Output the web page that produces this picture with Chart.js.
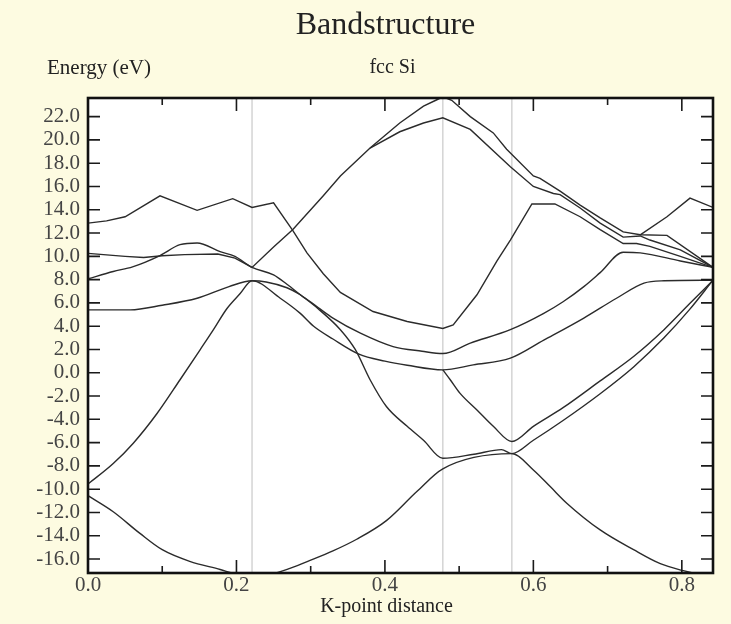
<!DOCTYPE html>
<html>
<head>
<meta charset="utf-8">
<title>Bandstructure</title>
<script src="https://cdn.jsdelivr.net/npm/chart.js@4.4.1/dist/chart.umd.min.js"></script>
<style>
  body { margin: 0; background: #fdfbe1; }
  canvas { display: block; }
</style>
</head>
<body>
<canvas id="bands" width="731" height="624"></canvas>
<script>
// path L - G - X - U,K - G, k in units
const symPoints = [0.221, 0.478, 0.571];
const xTicks = [0, 0.2, 0.4, 0.6, 0.8];
const xMinorTicks = [0.1, 0.3, 0.5, 0.7];
const yTicks = [-16, -14, -12, -10, -8, -6, -4, -2, 0, 2, 4, 6, 8, 10, 12, 14, 16, 18, 20, 22];

// bands as [k, E(eV)] pairs
const band1 = [[0,-10.56],[0.034,-11.94],[0.07,-13.8],[0.1,-15.2],[0.137,-16.2],[0.178,-16.9],[0.2,-17.3],[0.221,-17.5],
  [0.25,-17.25],[0.272,-16.8],[0.3,-16.1],[0.33,-15.3],[0.362,-14.3],[0.402,-12.7],[0.443,-10.2],[0.478,-8.25],
  [0.571,-6.95],[0.6,-8.35],[0.623,-9.8],[0.645,-11.2],[0.69,-13.5],[0.735,-15.2],[0.771,-16.4],[0.802,-17.0],[0.842,-17.6]];
const band2 = [[0,-9.56],[0.034,-7.8],[0.061,-6.05],[0.093,-3.5],[0.124,-0.6],[0.151,1.97],[0.169,3.7],[0.187,5.5],[0.205,6.8],[0.221,7.9],
  [0.24,7.8],[0.268,7.3],[0.286,6.7],[0.31,5.6],[0.33,4.7],[0.367,3.4],[0.411,2.25],[0.45,1.85],[0.478,1.65],
  [0.515,2.55],[0.569,3.7],[0.614,5.1],[0.64,6.1],[0.668,7.4],[0.69,8.6],[0.721,10.35],[0.744,10.3],[0.798,9.6],[0.842,9.05]];
const band3 = [[0,5.4],[0.057,5.4],[0.1,5.8],[0.147,6.4],[0.19,7.4],[0.221,7.9],
  [0.259,6.4],[0.286,5.1],[0.304,4.0],[0.33,2.9],[0.365,1.6],[0.4,1.0],[0.43,0.65],[0.478,0.25],
  [0.519,0.68],[0.569,1.25],[0.614,2.8],[0.668,4.7],[0.712,6.4],[0.749,7.7],[0.776,7.9],[0.842,7.95]];
const band4 = [[0,8.07],[0.034,8.7],[0.06,9.1],[0.097,10.07],[0.124,11.0],[0.147,11.15],[0.178,10.4],[0.198,10.0],[0.221,9.05],
  [0.25,8.4],[0.268,7.6],[0.286,6.7],[0.31,5.5],[0.34,3.7],[0.36,2.0],[0.38,-0.6],[0.402,-2.9],[0.43,-4.6],[0.452,-5.8],[0.478,-7.35],
  [0.52,-7.0],[0.557,-6.6],[0.571,-6.95],[0.6,-5.8],[0.64,-4.1],[0.69,-1.8],[0.735,0.5],[0.776,3.0],[0.81,5.4],[0.842,7.95]];
const band5 = [[0,10.25],[0.05,10.0],[0.075,9.9],[0.1,10.05],[0.13,10.15],[0.175,10.2],[0.198,9.85],[0.221,9.05],
  [0.25,10.8],[0.276,12.3],[0.317,15.2],[0.34,16.9],[0.38,19.3],[0.42,21.45],[0.452,22.9],[0.47,23.45],[0.478,23.7],
  [0.49,23.4],[0.515,22.0],[0.546,20.6],[0.564,19.2],[0.6,16.9],[0.609,16.7],[0.636,15.6],[0.663,14.4],[0.69,13.3],
  [0.721,12.1],[0.744,11.85],[0.78,11.8],[0.842,9.05]];
const band6 = [[0.38,19.3],[0.42,20.7],[0.452,21.45],[0.478,21.9],[0.515,20.9],[0.569,17.7],[0.6,16.0],[0.627,15.4],
  [0.636,15.3],[0.663,14.15],[0.69,12.85],[0.721,11.65],[0.744,11.75],[0.757,11.4],[0.798,10.55],[0.842,9.05]];
const band7 = [[0,12.85],[0.025,13.05],[0.05,13.4],[0.097,15.2],[0.147,13.95],[0.195,14.95],[0.221,14.2],
  [0.25,14.6],[0.276,12.2],[0.295,10.3],[0.317,8.5],[0.34,6.9],[0.384,5.26],[0.43,4.4],[0.478,3.8],
  [0.492,4.1],[0.524,6.7],[0.551,9.6],[0.569,11.4],[0.598,14.5],[0.629,14.5],[0.663,13.4],[0.69,12.3],
  [0.721,11.1],[0.739,11.1],[0.757,10.85],[0.798,10.0],[0.842,9.05]];
const band8 = [[0.478,0.25],[0.488,-0.6],[0.501,-1.75],[0.524,-3.2],[0.546,-4.6],[0.571,-5.9],
  [0.6,-4.6],[0.64,-3.0],[0.69,-0.7],[0.735,1.4],[0.776,3.7],[0.81,5.9],[0.842,7.95]];
const band9 = [[0.744,11.85],[0.78,13.4],[0.811,15.0],[0.842,14.2]];

const bandList = [band1, band2, band3, band4, band5, band6, band7, band8, band9];
// the smooth ones get monotone curves, the kinked ones stay straight
const smoothBands = [true, true, true, true, false, false, false, true, false];

const serif = '"Liberation Serif", "Times New Roman", serif';

const decor = {
  id: 'decor',
  beforeDraw(chart) {
    const {ctx, chartArea: a} = chart;
    ctx.save();
    ctx.fillStyle = '#fdfbe1';
    ctx.fillRect(0, 0, chart.width, chart.height);
    ctx.fillStyle = '#ffffff';
    ctx.fillRect(a.left, a.top, a.right - a.left, a.bottom - a.top);
    ctx.restore();
  },
  beforeDatasetsDraw(chart) {
    const {ctx, chartArea: a, scales} = chart;
    ctx.save();
    ctx.strokeStyle = '#d4d4d4';
    ctx.lineWidth = 1.5;
    symPoints.forEach(k => {
      const x = scales.x.getPixelForValue(k);
      ctx.beginPath();
      ctx.moveTo(x, a.top);
      ctx.lineTo(x, a.bottom);
      ctx.stroke();
    });
    ctx.restore();
  },
  afterDatasetsDraw(chart) {
    const {ctx, chartArea: a, scales} = chart;
    ctx.save();
    ctx.strokeStyle = '#1a1a1a';
    ctx.lineWidth = 1.6;
    const tickX = (k, len) => {
      const x = scales.x.getPixelForValue(k);
      ctx.beginPath();
      ctx.moveTo(x, a.bottom); ctx.lineTo(x, a.bottom - len);
      ctx.moveTo(x, a.top); ctx.lineTo(x, a.top + len);
      ctx.stroke();
    };
    xTicks.forEach(k => tickX(k, 13));
    xMinorTicks.forEach(k => tickX(k, 7));
    yTicks.forEach(v => {
      const y = scales.y.getPixelForValue(v);
      ctx.beginPath();
      ctx.moveTo(a.left, y); ctx.lineTo(a.left + 12, y);
      ctx.moveTo(a.right, y); ctx.lineTo(a.right - 12, y);
      ctx.stroke();
    });
    ctx.lineWidth = 2.6;
    ctx.strokeStyle = '#111';
    ctx.strokeRect(a.left, a.top, a.right - a.left, a.bottom - a.top);
    ctx.restore();
  },
  afterDraw(chart) {
    const {ctx, chartArea: a} = chart;
    const mid = (a.left + a.right) / 2;
    ctx.save();
    ctx.fillStyle = '#222';
    ctx.textBaseline = 'middle';
    ctx.textAlign = 'center';
    ctx.font = '32px ' + serif;
    ctx.fillText('Bandstructure', mid - 15, 26);
    ctx.font = '20px ' + serif;
    ctx.fillText('fcc Si', mid - 8, 68);
    ctx.fillText('K-point distance', mid - 14, 607);
    ctx.textAlign = 'left';
    ctx.font = '21px ' + serif;
    ctx.fillText('Energy (eV)', 47, 68);
    ctx.restore();
  }
};

new Chart(document.getElementById('bands'), {
  type: 'scatter',
  data: {
    datasets: bandList.map((b, i) => ({
      label: 'band ' + (i + 1),
      data: b.map(([x, y]) => ({x, y})),
      showLine: true,
      borderColor: '#2b2b2b',
      borderWidth: 1.4,
      pointRadius: 0,
      cubicInterpolationMode: smoothBands[i] ? 'monotone' : 'default',
      tension: smoothBands[i] ? 0.4 : 0
    }))
  },
  options: {
    responsive: false,
    devicePixelRatio: 1,
    animation: false,
    layout: { padding: { left: 30, right: 18, top: 98, bottom: 27 } },
    plugins: {
      legend: { display: false },
      tooltip: { enabled: false }
    },
    scales: {
      x: {
        type: 'linear',
        min: 0,
        max: 0.842,
        afterBuildTicks: axis => { axis.ticks = xTicks.map(v => ({value: v})); },
        afterFit: axis => { axis.height = 24; },
        grid: { display: false, drawTicks: false },
        border: { display: false },
        ticks: {
          autoSkip: false,
          maxRotation: 0,
          padding: 0,
          color: '#444',
          font: { family: serif, size: 21 },
          callback: v => v.toFixed(1)
        }
      },
      y: {
        type: 'linear',
        min: -17.2,
        max: 23.6,
        afterBuildTicks: axis => { axis.ticks = yTicks.map(v => ({value: v})); },
        afterFit: axis => { axis.width = 58; },
        grid: { display: false, drawTicks: false },
        border: { display: false },
        ticks: {
          autoSkip: false,
          padding: 8,
          color: '#444',
          font: { family: serif, size: 21 },
          callback: v => v.toFixed(1)
        }
      }
    }
  },
  plugins: [decor]
});
</script>
</body>
</html>
